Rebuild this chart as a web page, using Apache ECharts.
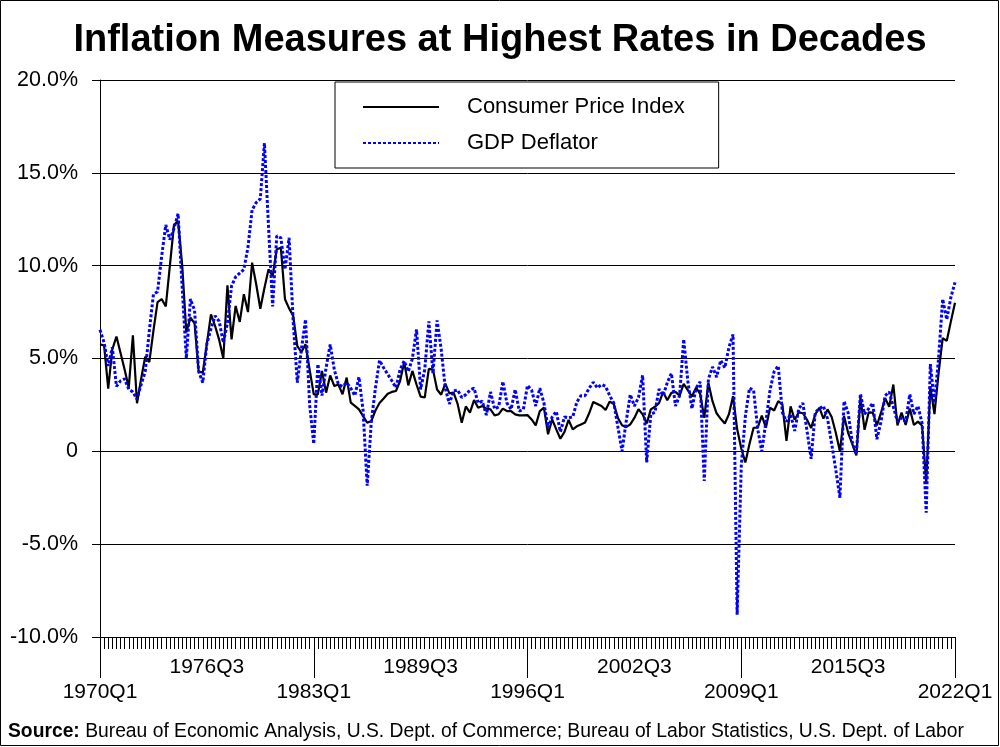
<!DOCTYPE html>
<html><head><meta charset="utf-8">
<script src="https://cdn.jsdelivr.net/npm/echarts@6/dist/echarts.min.js"></script>
<style>html,body{margin:0;padding:0;background:#fff}#c{width:1000px;height:747px}</style>
</head><body><div id="c"></div>
<script>
// Quarter categories 1970Q1 .. 2022Q1
const firstYear = 1970, lastYear = 2022, lastQuarter = 1;
const quarters = [];
for (let y = firstYear; y <= lastYear; y++) {
  for (let q = 1; q <= 4; q++) {
    if (y === lastYear && q > lastQuarter) break;
    quarters.push(y + 'Q' + q);
  }
}
const upperRowLabels = ['1976Q3', '1989Q3', '2002Q3', '2015Q3'];
const lowerRowLabels = ['1970Q1', '1983Q1', '1996Q1', '2009Q1', '2022Q1'];
const yTickValues = [-10, -5, 0, 5, 10, 15, 20];

// Consumer Price Index, annualized quarterly % change
const cpi = [
  5.76, 5.7, 3.38, 5.5, 6.18, 5.3, 4.4, 3.43, 6.25, 2.59,
  3.9, 5.1, 4.8, 6.5, 8.04, 8.2, 7.8, 10.0, 12.2, 12.4,
  10.0, 6.4, 7.2, 6.9, 4.3, 4.24, 5.8, 7.38, 6.75, 6.0,
  5.0, 8.94, 6.03, 7.83, 6.97, 8.46, 7.5, 10.16, 9.0, 7.68,
  8.8, 9.8, 9.44, 10.88, 10.97, 8.19, 7.7, 7.3, 5.67, 5.35,
  5.76, 4.4, 3.07, 3.07, 4.33, 3.16, 4.09, 3.52, 3.6, 3.07,
  3.97, 2.62, 2.45, 2.26, 1.9, 1.54, 1.63, 2.2, 2.6, 2.85,
  3.1, 3.2, 3.25, 3.79, 4.81, 3.55, 4.33, 3.6, 2.95, 2.9,
  4.44, 4.4, 3.33, 3.05, 3.65, 3.12, 3.17, 2.55, 1.54, 2.42,
  2.08, 2.76, 2.35, 2.44, 2.3, 2.26, 1.94, 2.0, 2.3, 2.17,
  2.17, 1.99, 1.94, 1.94, 1.95, 1.72, 1.4, 2.17, 2.35, 0.92,
  1.72, 1.18, 0.68, 1.05, 1.69, 1.18, 1.35, 1.45, 1.55, 2.05,
  2.66, 2.55, 2.44, 2.23, 2.68, 2.55, 1.8, 1.4, 1.3, 1.45,
  1.8, 2.27, 1.99, 1.5, 2.26, 2.4, 2.6, 3.2, 2.75, 3.15,
  3.2, 3.0, 3.63, 3.3, 2.95, 3.43, 3.1, 1.8, 3.7, 2.7,
  2.05, 1.75, 1.5, 2.0, 2.97, 1.2, 0.15, -0.6, 0.4, 1.27,
  1.27, 1.92, 1.27, 2.35, 2.2, 2.7, 2.53, 0.56, 2.42, 1.7,
  2.1, 2.05, 1.7, 1.25, 1.99, 2.35, 1.76, 2.26, 1.85, 1.0,
  0.0, 1.9, 1.0, 0.4, -0.22, 2.9, 1.16, 2.1, 2.08, 1.4,
  2.08, 2.86, 2.4, 3.6, 1.4, 2.08, 1.42, 2.3, 1.42, 1.6,
  1.38, -1.7, 3.5, 2.0, 4.2, 6.1, 5.95, 7.0, 8.0
];

// GDP Deflator, annualized quarterly % change
const gdpDeflator = [
  6.55, 5.85, 4.6, 5.6, 3.5, 3.8, 3.9, 3.34, 3.2, 2.8,
  3.6, 4.3, 6.5, 8.46, 8.6, 10.5, 12.2, 11.4, 12.0, 12.8,
  8.8, 5.0, 8.2, 7.6, 4.3, 3.7, 5.8, 6.6, 7.3, 7.0,
  5.85, 6.9, 8.9, 9.4, 9.6, 9.8, 11.0, 13.0, 13.4, 13.6,
  16.6, 12.1, 7.8, 11.6, 11.5, 9.8, 11.5, 7.0, 3.7, 5.5,
  7.1, 2.5, 0.4, 4.7, 3.0, 4.5, 5.76, 4.4, 3.6, 3.5,
  3.7, 3.4, 3.0, 4.0, 2.2, -1.85, 1.6, 3.4, 4.9, 4.5,
  4.15, 3.8, 3.43, 4.4, 4.87, 4.3, 5.0, 6.57, 3.34, 4.4,
  7.0, 4.2, 7.05, 5.5, 3.4, 2.55, 3.25, 3.3, 2.9, 3.06,
  3.3, 3.4, 2.6, 2.7, 1.95, 3.2, 2.28, 2.4, 3.76, 2.6,
  2.26, 3.33, 2.17, 2.26, 3.55, 3.3, 2.44, 3.4, 2.6, 1.27,
  1.85, 2.15, 1.05, 1.85, 1.8, 1.85, 2.65, 3.0, 3.0, 3.4,
  3.72, 3.42, 3.6, 3.5, 3.0, 2.6, 1.3, 0.0, 1.6, 3.06,
  2.44, 2.9, 4.1, -0.6, 2.0, 2.1, 3.35, 3.0, 3.7, 4.2,
  2.44, 3.0, 6.03, 3.79, 2.3, 3.4, 3.75, -1.6, 3.88, 4.55,
  4.0, 4.9, 4.5, 5.6, 6.3, -8.8, -0.8, 1.9, 3.4, 3.3,
  1.2, 0.0, 1.6, 3.3, 4.3, 4.6, 2.1, 1.6, 2.0, 1.1,
  2.3, 2.6, 1.1, -0.4, 2.1, 2.3, 2.44, 1.75, 0.4, -1.0,
  -2.5, 2.7, 2.08, 0.5, -0.15, 3.1, 2.0, 2.3, 2.6, 0.65,
  1.6, 3.0, 3.2, 2.4, 1.6, 1.8, 1.6, 3.07, 2.0, 2.44,
  1.5, -3.3, 4.7, 2.6, 5.0, 8.2, 7.1, 8.3, 9.1
];

const FONT = "'Liberation Sans', Arial, Helvetica, sans-serif";
const chart = echarts.init(document.getElementById('c'), null, {renderer: 'canvas'});

const option = {
  animation: false,
  backgroundColor: '#fff',
  title: [
    {
      text: 'Inflation Measures at Highest Rates in Decades',
      left: 'center', top: 17,
      textStyle: {fontFamily: FONT, fontSize: 38, fontWeight: 'bold', color: '#000'}
    },
    {
      text: '{b|Source:} Bureau of Economic Analysis, U.S. Dept. of Commerce; Bureau of Labor Statistics, U.S. Dept. of Labor',
      left: 3, top: 717,
      textStyle: {
        fontFamily: FONT, fontSize: 19.3, color: '#000', fontWeight: 'normal',
        rich: {b: {fontFamily: FONT, fontSize: 19.3, fontWeight: 'bold', color: '#000'}}
      }
    }
  ],
  legend: {
    orient: 'vertical',
    left: 335, top: 82,
    padding: [14, 34, 14, 27],
    itemGap: 14,
    itemWidth: 76, itemHeight: 20,
    borderColor: '#000', borderWidth: 1, backgroundColor: '#fff',
    itemStyle: {opacity: 0},
    textStyle: {fontFamily: FONT, fontSize: 22, color: '#000', padding: [0, 0, 0, 23]},
    data: ['Consumer Price Index', 'GDP Deflator']
  },
  grid: {left: 100, right: 45, top: 80, bottom: 110, containLabel: false},
  xAxis: [
    {
      type: 'category', data: quarters, boundaryGap: false, position: 'bottom',
      axisLine: {show: true, onZero: false, lineStyle: {color: '#000', width: 1}},
      axisTick: {show: true, interval: 0, length: 12, lineStyle: {color: '#000', width: 1}},
      axisLabel: {
        interval: (i, v) => upperRowLabels.includes(v),
        margin: 20, fontSize: 21, fontFamily: FONT, color: '#000'
      },
      splitLine: {show: false}
    },
    {
      type: 'category', data: quarters, boundaryGap: false, position: 'bottom',
      axisLine: {show: false, onZero: false},
      axisTick: {show: true, interval: (i, v) => lowerRowLabels.includes(v), length: 41, lineStyle: {color: '#000', width: 1}},
      axisLabel: {
        interval: (i, v) => lowerRowLabels.includes(v),
        margin: 45, fontSize: 21, fontFamily: FONT, color: '#000'
      },
      splitLine: {show: false}
    }
  ],
  yAxis: {
    type: 'value', min: yTickValues[0], max: yTickValues[yTickValues.length - 1], interval: 5,
    axisLine: {show: true, lineStyle: {color: '#000', width: 1}},
    axisTick: {show: true, length: 8, lineStyle: {color: '#000'}},
    axisLabel: {
      formatter: v => v === 0 ? '0' : v.toFixed(1) + '%',
      margin: 22, fontSize: 21.5, fontFamily: FONT, color: '#000'
    },
    splitLine: {show: true, lineStyle: {color: '#000', width: 1}}
  },
  series: [
    {
      name: 'Consumer Price Index', type: 'line', data: cpi, xAxisIndex: 0,
      symbol: 'none', smooth: false, z: 2,
      lineStyle: {color: '#000', width: 2.2},
      itemStyle: {color: '#000'}
    },
    {
      name: 'GDP Deflator', type: 'line', data: gdpDeflator, xAxisIndex: 0,
      symbol: 'none', smooth: false, z: 3,
      lineStyle: {color: '#0000ff', width: 3, type: [3, 2], cap: 'butt'},
      itemStyle: {color: '#0000ff'}
    }
  ],
  graphic: [
    {
      type: 'rect', silent: true, z: 100,
      shape: {x: 0.5, y: 0.5, width: 998, height: 745},
      style: {fill: null, stroke: '#000', lineWidth: 1}
    }
  ]
};
chart.setOption(option);
</script>
</body></html>
